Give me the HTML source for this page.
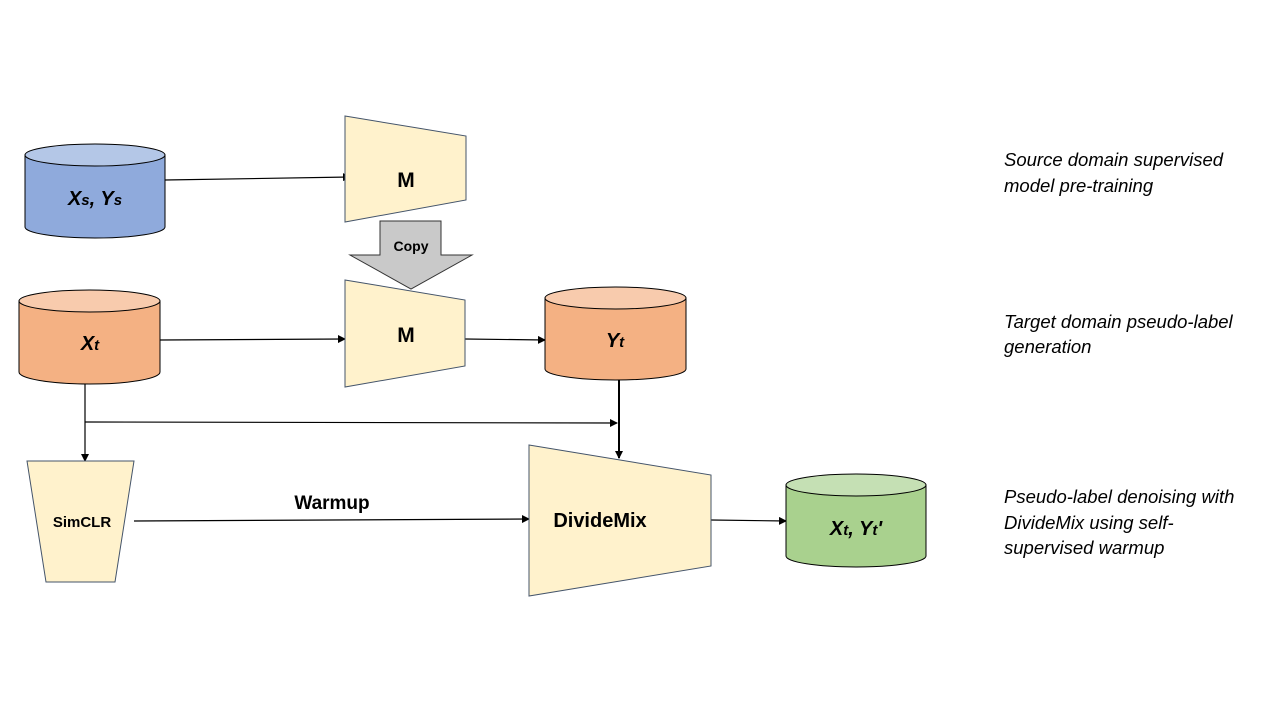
<!DOCTYPE html>
<html><head><meta charset="utf-8"><style>
html,body{margin:0;padding:0;background:#fff;}
svg{display:block;font-family:"Liberation Sans",sans-serif;}
</style></head><body>
<svg width="1280" height="720" viewBox="0 0 1280 720">
<defs>
<marker id="a" markerWidth="8" markerHeight="8" refX="7" refY="4" orient="auto" markerUnits="userSpaceOnUse">
<path d="M0,0 L8,4 L0,8 z" fill="#000"/></marker>
</defs>
<g stroke="#000" stroke-width="1.2" fill="none">
<line x1="165" y1="180" x2="350" y2="177" marker-end="url(#a)"/>
<line x1="160" y1="340" x2="345" y2="339" marker-end="url(#a)"/>
<line x1="465" y1="339" x2="545" y2="340" marker-end="url(#a)"/>
<line x1="85" y1="384" x2="85" y2="461" marker-end="url(#a)"/>
<line x1="85" y1="422" x2="617" y2="423" marker-end="url(#a)"/>
<line x1="619" y1="380" x2="619" y2="458" stroke-width="2" marker-end="url(#a)"/>
<line x1="134" y1="521" x2="529" y2="519" marker-end="url(#a)"/>
<line x1="711" y1="520" x2="786" y2="521" marker-end="url(#a)"/>
</g>
<g stroke="#000" stroke-width="1">
<path d="M25,155 V227 A70,11 0 0 0 165,227 V155" fill="#8FAADC"/>
<ellipse cx="95" cy="155" rx="70" ry="11" fill="#B4C7E7"/>
<path d="M19,301 V372 A70.5,12 0 0 0 160,372 V301" fill="#F4B183"/>
<ellipse cx="89.5" cy="301" rx="70.5" ry="11" fill="#F8CBAD"/>
<path d="M545,298 V369 A70.5,11 0 0 0 686,369 V298" fill="#F4B183"/>
<ellipse cx="615.5" cy="298" rx="70.5" ry="11" fill="#F8CBAD"/>
<path d="M786,485 V556 A70,11 0 0 0 926,556 V485" fill="#A9D18E"/>
<ellipse cx="856" cy="485" rx="70" ry="11" fill="#C5E0B4"/>
</g>
<g stroke="#44546A" stroke-width="1" fill="#FFF2CC">
<polygon points="345,116 466,136 466,200 345,222"/>
<polygon points="345,280 465,300 465,366 345,387"/>
<polygon points="27,461 134,461 115,582 46,582"/>
<polygon points="529,445 711,475 711,566 529,596"/>
</g>
<polygon points="380,221 441,221 441,255 472,255 411,289 350,255 380,255" fill="#C9C9C9" stroke="#333" stroke-width="1"/>
<g font-weight="bold" fill="#000" text-anchor="middle">
<text x="406" y="187" font-size="21">M</text>
<text x="406" y="342" font-size="21">M</text>
<text x="411" y="251" font-size="14">Copy</text>
<text x="82" y="527" font-size="15">SimCLR</text>
<text x="600" y="527" font-size="20">DivideMix</text>
<text x="332" y="509" font-size="19">Warmup</text>
<g font-style="italic" font-size="20">
<text x="95" y="205">X<tspan font-size="15">s</tspan>, Y<tspan font-size="15">s</tspan></text>
<text x="90" y="350">X<tspan font-size="15">t</tspan></text>
<text x="615" y="347">Y<tspan font-size="15">t</tspan></text>
<text x="856" y="535">X<tspan font-size="15">t</tspan>, Y<tspan font-size="15">t</tspan>'</text>
</g>
</g>
<g font-style="italic" font-size="18.5" fill="#000">
<text x="1004" y="166">Source domain supervised</text>
<text x="1004" y="192">model pre-training</text>
<text x="1004" y="328">Target domain pseudo-label</text>
<text x="1004" y="353">generation</text>
<text x="1004" y="503">Pseudo-label denoising with</text>
<text x="1004" y="529">DivideMix using self-</text>
<text x="1004" y="554">supervised warmup</text>
</g>
</svg>
</body></html>
